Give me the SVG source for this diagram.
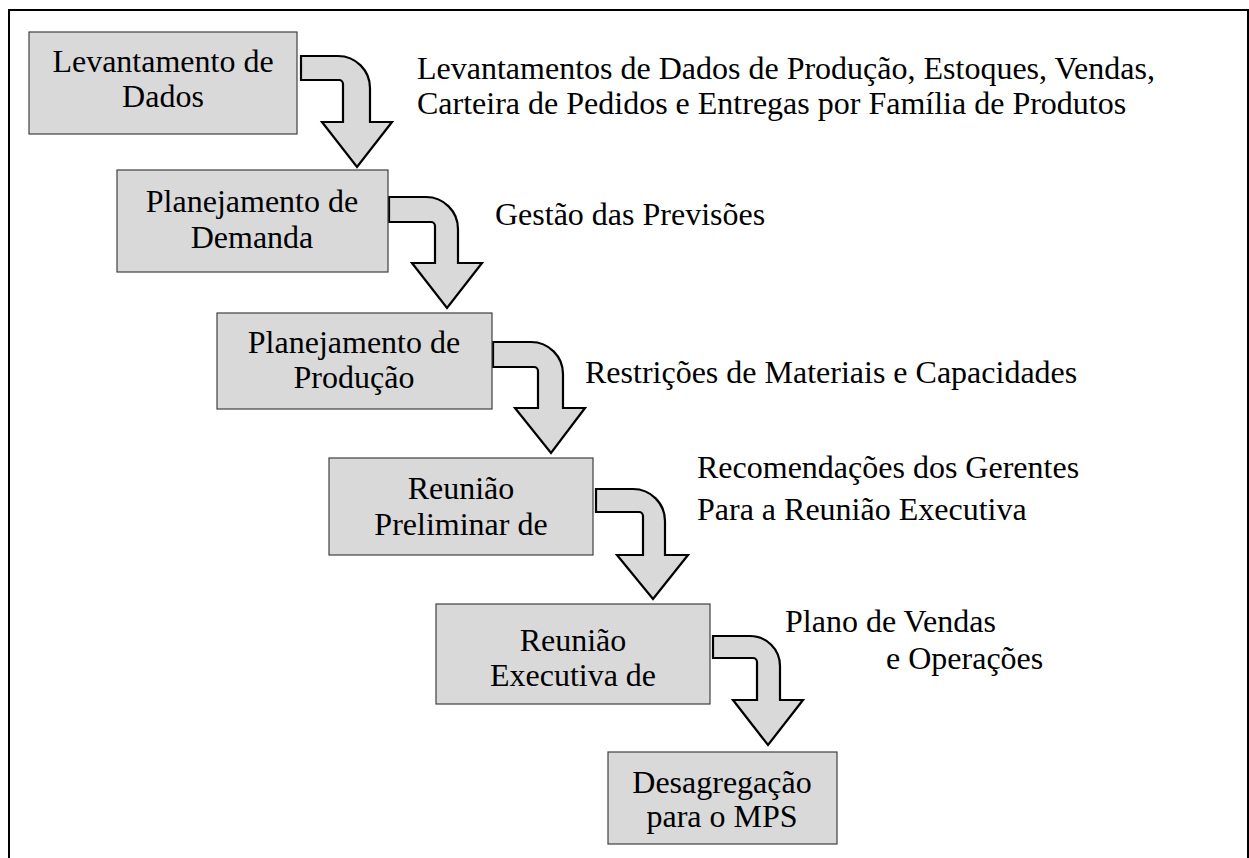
<svg xmlns="http://www.w3.org/2000/svg" width="1249" height="858" viewBox="0 0 1249 858">
<style>
.box{fill:#d9d9d9;stroke:#404040;stroke-width:1.2}
.arr{fill:#d9d9d9;stroke:#000;stroke-width:2.2;stroke-linejoin:miter}
text{font-family:"Liberation Serif","Times New Roman",serif;fill:#000}
.bt{font-size:32px;text-anchor:middle}
.lt{font-size:32px}
</style>
<rect width="1249" height="858" fill="#fff"/>
<path d="M9,860 V10 H1248 V860" fill="none" stroke="#000" stroke-width="2"/>
<g id="connectors">
<path class="arr" d="M301,56 H338 A32,32 0 0 1 370,88 V122 H392 L357,167 L322,122 H343 V84 A4,4 0 0 0 339,80 H301 Z"/>
<path class="arr" d="M389,197 H426 A32,32 0 0 1 458,229 V263 H482 L447,308 L412,263 H435 V226 A4,4 0 0 0 431,222 H389 Z"/>
<path class="arr" d="M493,342 H531 A32,32 0 0 1 563,374 V408 H585 L551,453 L515,408 H538 V371 A4,4 0 0 0 534,367 H493 Z"/>
<path class="arr" d="M596,489 H633 A32,32 0 0 1 665,521 V555 H688 L653,599 L617,555 H643 V516 A4,4 0 0 0 639,512 H596 Z"/>
<path class="arr" d="M713,636 H750 A30,30 0 0 1 780,666 V700 H803 L768,745 L733,700 H757 V662 A4,4 0 0 0 753,658 H713 Z"/>
</g>
<g id="n1"><rect class="box" x="29" y="32" width="268" height="102"/>
<text class="bt" x="163" y="72">Levantamento de</text><text class="bt" x="163" y="107">Dados</text></g>
<g id="n2"><rect class="box" x="117" y="170" width="271" height="102"/>
<text class="bt" x="252" y="212">Planejamento de</text><text class="bt" x="252" y="248">Demanda</text></g>
<g id="n3"><rect class="box" x="217" y="313" width="275" height="96"/>
<text class="bt" x="354" y="353">Planejamento de</text><text class="bt" x="354" y="388">Produção</text></g>
<g id="n4"><rect class="box" x="329" y="458" width="264" height="97"/>
<text class="bt" x="461" y="499">Reunião</text><text class="bt" x="461" y="535">Preliminar de</text></g>
<g id="n5"><rect class="box" x="436" y="604" width="274" height="100"/>
<text class="bt" x="573" y="651">Reunião</text><text class="bt" x="573" y="686">Executiva de</text></g>
<g id="n6"><rect class="box" x="608" y="752" width="229" height="92"/>
<text class="bt" x="722" y="793">Desagregação</text><text class="bt" x="722" y="827">para o MPS</text></g>
<g id="labels">
<text class="lt" x="417" y="79">Levantamentos de Dados de Produção, Estoques, Vendas,</text>
<text class="lt" x="417" y="114">Carteira de Pedidos e Entregas por Família de Produtos</text>
<text class="lt" x="495" y="225">Gestão das Previsões</text>
<text class="lt" x="585" y="383">Restrições de Materiais e Capacidades</text>
<text class="lt" x="697" y="478">Recomendações dos Gerentes</text>
<text class="lt" x="697" y="520">Para a Reunião Executiva</text>
<text class="lt" x="785" y="632">Plano de Vendas</text>
<text class="lt" x="886" y="669">e Operações</text>
</g>
</svg>
